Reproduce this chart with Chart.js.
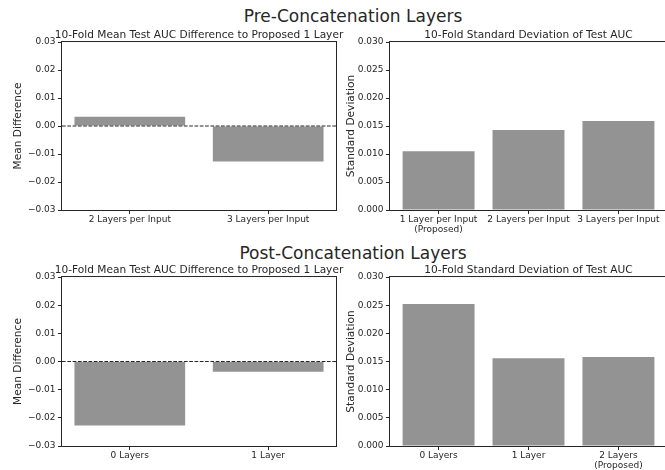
<!DOCTYPE html>
<html>
<head>
<meta charset="utf-8">
<script src="https://cdn.jsdelivr.net/npm/chart.js@4.4.0/dist/chart.umd.min.js"></script>
<style>
  html, body { margin: 0; padding: 0; background: #fff; }
  body { width: 665px; height: 470px; overflow: hidden; position: relative; font-family: 'DejaVu Sans', sans-serif; color: #262626; }
  canvas { position: absolute; }
  .suptitle { position: absolute; left: 2px; width: 702px; text-align: center; font-size: 17px; line-height: 20px; }
</style>
</head>
<body>
<div class="suptitle" style="top:6px">Pre-Concatenation Layers</div>
<div class="suptitle" style="top:243px">Post-Concatenation Layers</div>
<canvas id="pre-diff" width="398" height="214" style="left:0;top:26px"></canvas>
<canvas id="pre-std" width="387" height="214" style="left:335px;top:26px"></canvas>
<canvas id="post-diff" width="398" height="215" style="left:0;top:261px"></canvas>
<canvas id="post-std" width="387" height="215" style="left:335px;top:261px"></canvas>
<script>
const preDiffLabels = ["2 Layers per Input", "3 Layers per Input"];
const preDiffValues = [0.0033, -0.0127];
const preStdLabels = ["1 Layer per Input\n(Proposed)", "2 Layers per Input", "3 Layers per Input"];
const preStdValues = [0.0105, 0.0143, 0.0159];
const postDiffLabels = ["0 Layers", "1 Layer"];
const postDiffValues = [-0.0227, -0.0036];
const postStdLabels = ["0 Layers", "1 Layer", "2 Layers\n(Proposed)"];
const postStdValues = [0.0252, 0.0156, 0.0158];

const diffTicks = [-0.03, -0.02, -0.01, 0, 0.01, 0.02, 0.03];
const stdTicks = [0, 0.005, 0.01, 0.015, 0.02, 0.025, 0.03];

const diffTitle = "10-Fold Mean Test AUC Difference to Proposed 1 Layer";
const stdTitle = "10-Fold Standard Deviation of Test AUC";

const TEXT = "#262626";
const BAR = "#939393";

Chart.defaults.font.family = "'DejaVu Sans', sans-serif";
Chart.defaults.color = TEXT;

function formatTick(v, decimals) {
    const s = Math.abs(v).toFixed(decimals);
    return (v < -1e-9 ? "\u2212" : "") + s;
}

// matplotlib style box around the axes
const spines = {
    id: "spines",
    afterDraw(chart) {
        const { ctx, chartArea: a } = chart;
        ctx.save();
        ctx.strokeStyle = TEXT;
        ctx.lineWidth = 1;
        ctx.strokeRect(a.left - 0.5, a.top - 0.5, a.right - a.left + 1, a.bottom - a.top + 1);
        ctx.restore();
    }
};

function drawPanel(id, labels, values, yTicks, decimals, title, yTitle, yWidth, rightWidth, yTitlePad) {
    const xMin = -0.4 - 0.05 * (labels.length - 1 + 0.8);
    const xMax = labels.length - 1 - xMin;

    const datasets = [{
        type: "bar",
        data: values.map((v, i) => ({ x: i, y: v })),
        backgroundColor: BAR,
        categoryPercentage: 1,
        barPercentage: 0.8,
        order: 1
    }];
    if (yTicks[0] < 0) {
        datasets.push({
            type: "line",
            data: [{ x: xMin, y: 0 }, { x: xMax, y: 0 }],
            borderColor: TEXT,
            borderWidth: 1,
            borderDash: [3.7, 1.6],
            pointRadius: 0,
            order: 0
        });
    }

    const tickGrid = { offset: false, drawOnChartArea: false, drawTicks: true, tickLength: 4, color: TEXT };

    return new Chart(document.getElementById(id), {
        type: "bar",
        data: { datasets },
        options: {
            responsive: false,
            animation: false,
            layout: { padding: 0 },
            plugins: {
                legend: { display: false },
                tooltip: { enabled: false },
                title: {
                    display: true,
                    text: title,
                    color: TEXT,
                    font: { size: 10.6, weight: "normal", lineHeight: 1.2 },
                    padding: { top: 2.5, bottom: 0.8 }
                }
            },
            scales: {
                x: {
                    type: "linear",
                    bounds: "data",
                    offset: false,
                    min: xMin,
                    max: xMax,
                    afterBuildTicks: (s) => { s.ticks = labels.map((l, i) => ({ value: i })); },
                    afterFit: (s) => { s.height = 30; },
                    grid: tickGrid,
                    border: { display: false },
                    ticks: {
                        color: TEXT,
                        font: { size: 9, lineHeight: 1.1 },
                        padding: 1,
                        maxRotation: 0,
                        autoSkip: false,
                        callback: (v) => labels[v].split("\n")
                    }
                },
                y: {
                    bounds: "data",
                    min: yTicks[0],
                    max: yTicks[yTicks.length - 1],
                    afterBuildTicks: (s) => { s.ticks = yTicks.map((v) => ({ value: v })); },
                    afterFit: (s) => { s.width = yWidth; },
                    grid: tickGrid,
                    border: { display: false },
                    ticks: {
                        color: TEXT,
                        font: { size: 9 },
                        padding: 2.5,
                        callback: (v) => formatTick(v, decimals)
                    },
                    title: {
                        display: true,
                        text: yTitle,
                        color: TEXT,
                        font: { size: 10.6 },
                        padding: { top: yTitlePad, bottom: 0 }
                    }
                },
                // empty right-hand scale, only reserves room so the title centres over the axes
                yRight: {
                    position: "right",
                    display: true,
                    min: yTicks[0],
                    max: yTicks[yTicks.length - 1],
                    afterFit: (s) => { s.width = rightWidth; },
                    grid: { display: false },
                    border: { display: false },
                    ticks: { display: false }
                }
            }
        },
        plugins: [spines]
    });
}

drawPanel("pre-diff", preDiffLabels, preDiffValues, diffTicks, 2, diffTitle, "Mean Difference", 62, 62, 12);
drawPanel("pre-std", preStdLabels, preStdValues, stdTicks, 3, stdTitle, "Standard Deviation", 55, 55, 9.5);
drawPanel("post-diff", postDiffLabels, postDiffValues, diffTicks, 2, diffTitle, "Mean Difference", 62, 62, 12);
drawPanel("post-std", postStdLabels, postStdValues, stdTicks, 3, stdTitle, "Standard Deviation", 55, 55, 9.5);
</script>
</body>
</html>
